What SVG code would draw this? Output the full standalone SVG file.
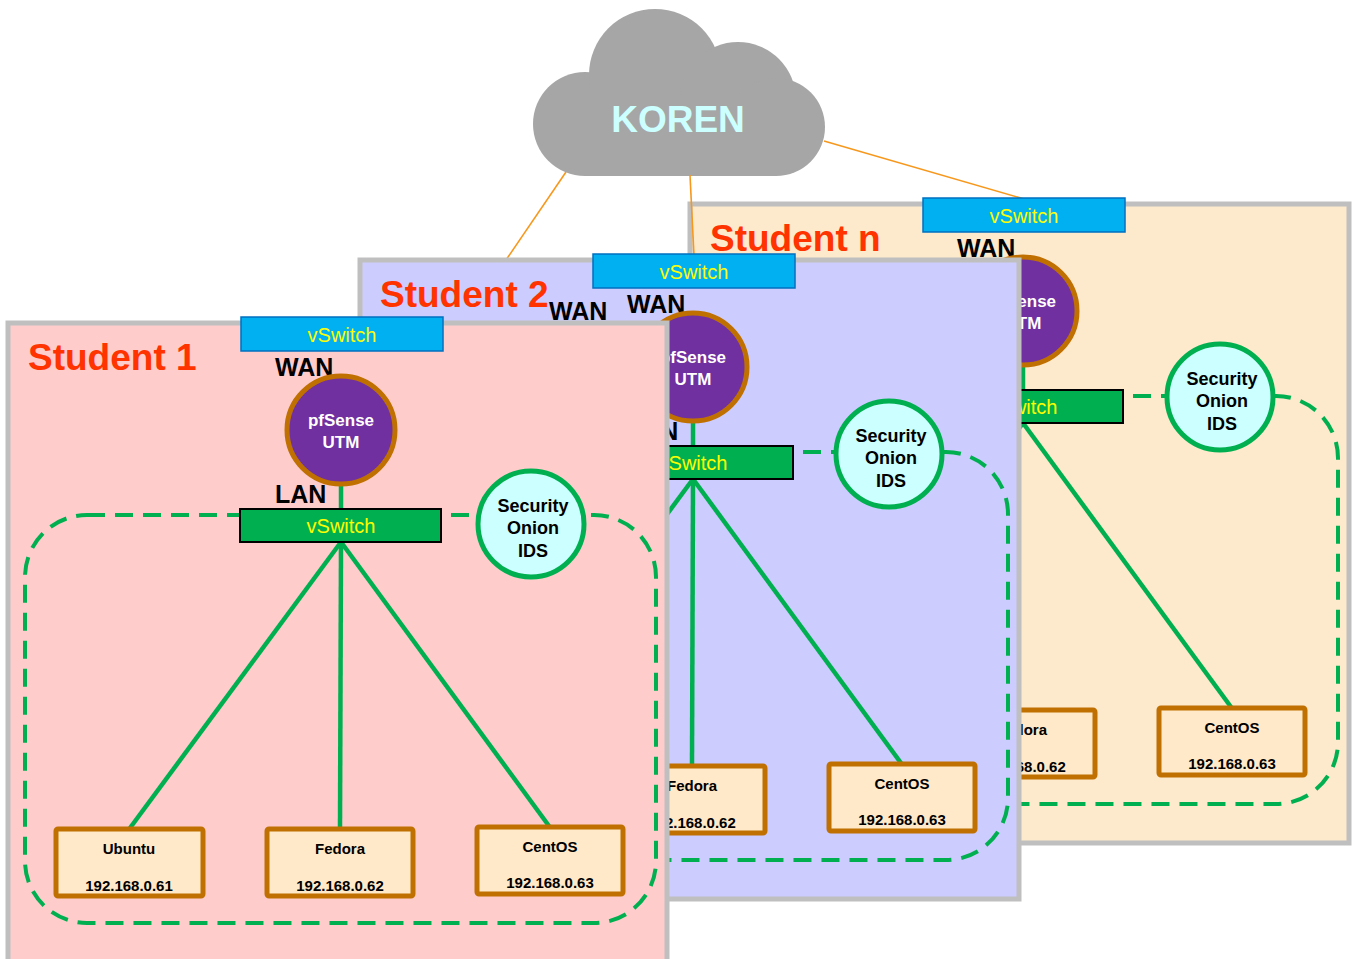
<svg xmlns="http://www.w3.org/2000/svg" width="1354" height="959" viewBox="0 0 1354 959">
<style>
.panel{stroke:#BFBFBF;stroke-width:5}
.lan{fill:none;stroke:#00B050;stroke-width:4;stroke-dasharray:18 10}
.link{stroke:#00B050;stroke-width:4.5;fill:none}
.up{stroke:#F7981D;stroke-width:1.6;fill:none}
.wsw{fill:#00B0F0;stroke:#0070C0;stroke-width:1.5}
.lsw{fill:#00B050;stroke:#000;stroke-width:2}
.swt{font-family:"Liberation Sans",Arial,sans-serif;font-size:20px;fill:#FFFF00;text-anchor:middle}
.fw{fill:#7030A0;stroke:#C07000;stroke-width:5}
.fwt{font-family:"Liberation Sans",Arial,sans-serif;font-weight:bold;font-size:17px;fill:#FFFFFF;text-anchor:middle}
.ids{fill:#CCFFFF;stroke:#00B050;stroke-width:5}
.idst{font-family:"Liberation Sans",Arial,sans-serif;font-weight:bold;font-size:18px;fill:#000;text-anchor:middle}
.vm{fill:#FFE9C9;stroke:#C07000;stroke-width:5}
.vmt{font-family:"Liberation Sans",Arial,sans-serif;font-weight:bold;font-size:15px;fill:#000;text-anchor:middle}
.port{font-family:"Liberation Sans",Arial,sans-serif;font-weight:bold;font-size:25px;fill:#000}
.title{font-family:"Liberation Sans",Arial,sans-serif;font-weight:bold;font-size:37px;fill:#FF3300}
.cloud{fill:#A6A6A6}
</style>

<g id="uplinks-back">
  <line class="up" x1="566" y1="172" x2="506" y2="260"/>
  <line class="up" x1="824" y1="141" x2="1024" y2="199"/>
</g>

<g id="koren">
  <g class="cloud">
    <circle cx="585" cy="124" r="52"/>
    <circle cx="655" cy="75" r="66"/>
    <circle cx="738" cy="100" r="58"/>
    <circle cx="776" cy="127" r="49"/>
    <rect x="585" y="100" width="191" height="76"/>
  </g>
  <text x="678" y="132" font-family="Liberation Sans, Arial, sans-serif" font-weight="bold" font-size="37" fill="#CCFFFF" text-anchor="middle">KOREN</text>
</g>

<!-- Student n -->
<g id="student-n" transform="translate(682,-119)">
  <rect id="sn-panel" class="panel" x="8" y="323" width="659" height="639" fill="#FDE9CC"/>
  <g id="sn-connectors">
    <rect class="lan" x="25" y="515" width="631" height="408" rx="62"/>
    <line class="link" x1="341" y1="485" x2="341" y2="510"/>
    <line class="link" x1="341" y1="542" x2="130" y2="828"/>
    <line class="link" x1="330" y1="542" x2="330" y2="828"/>
    <line class="link" x1="341" y1="542" x2="549" y2="826"/>
  </g>
  <text class="title" x="28" y="370">Student n</text>
  <g id="sn-wan-switch"><rect class="wsw" x="241" y="317" width="202" height="34"/><text class="swt" x="342" y="342">vSwitch</text></g>
  <text class="port" x="275" y="376">WAN</text>
  <g id="sn-pfsense"><circle class="fw" cx="341" cy="430" r="54"/><text class="fwt" x="341" y="426">pfSense</text><text class="fwt" x="341" y="448">UTM</text></g>
  <text class="port" x="275" y="503">LAN</text>
  <g id="sn-lan-switch"><rect class="lsw" x="240" y="509" width="201" height="33"/><text class="swt" x="341" y="533">vSwitch</text></g>
  <g id="sn-ids"><circle class="ids" cx="538" cy="516" r="53"/><text class="idst" x="540" y="504">Security</text><text class="idst" x="540" y="526">Onion</text><text class="idst" x="540" y="549">IDS</text></g>
  <g id="sn-ubuntu"><rect class="vm" x="56" y="829" width="147" height="67" rx="2"/><text class="vmt" x="129" y="854">Ubuntu</text><text class="vmt" x="129" y="891">192.168.0.61</text></g>
  <g id="sn-fedora"><rect class="vm" x="267" y="829" width="146" height="67" rx="2"/><text class="vmt" x="340" y="854">Fedora</text><text class="vmt" x="340" y="891">192.168.0.62</text></g>
  <g id="sn-centos"><rect class="vm" x="477" y="827" width="146" height="67" rx="2"/><text class="vmt" x="550" y="852">CentOS</text><text class="vmt" x="550" y="888">192.168.0.63</text></g>
</g>

<g id="uplinks-front">
  <line class="up" x1="690" y1="175" x2="694" y2="256"/>
</g>

<!-- Student 2 -->
<g id="student-2" transform="translate(352,-63)">
  <rect id="s2-panel" class="panel" x="8" y="323" width="659" height="639" fill="#CCCCFF"/>
  <g id="s2-connectors">
    <rect class="lan" x="25" y="515" width="631" height="408" rx="62"/>
    <line class="link" x1="341" y1="485" x2="341" y2="510"/>
    <line class="link" x1="341" y1="542" x2="130" y2="828"/>
    <line class="link" x1="341" y1="542" x2="340" y2="828"/>
    <line class="link" x1="341" y1="542" x2="549" y2="826"/>
  </g>
  <text class="title" x="28" y="370">Student 2</text>
  <text class="port" x="197" y="383">WAN</text>
  <g id="s2-wan-switch"><rect class="wsw" x="241" y="317" width="202" height="34"/><text class="swt" x="342" y="342">vSwitch</text></g>
  <text class="port" x="275" y="376">WAN</text>
  <g id="s2-pfsense"><circle class="fw" cx="341" cy="430" r="54"/><text class="fwt" x="341" y="426">pfSense</text><text class="fwt" x="341" y="448">UTM</text></g>
  <text class="port" x="275" y="503">LAN</text>
  <g id="s2-lan-switch"><rect class="lsw" x="240" y="509" width="201" height="33"/><text class="swt" x="341" y="533">vSwitch</text></g>
  <g id="s2-ids"><circle class="ids" cx="537" cy="517" r="53"/><text class="idst" x="539" y="505">Security</text><text class="idst" x="539" y="527">Onion</text><text class="idst" x="539" y="550">IDS</text></g>
  <g id="s2-ubuntu"><rect class="vm" x="56" y="829" width="147" height="67" rx="2"/><text class="vmt" x="129" y="854">Ubuntu</text><text class="vmt" x="129" y="891">192.168.0.61</text></g>
  <g id="s2-fedora"><rect class="vm" x="267" y="829" width="146" height="67" rx="2"/><text class="vmt" x="340" y="854">Fedora</text><text class="vmt" x="340" y="891">192.168.0.62</text></g>
  <g id="s2-centos"><rect class="vm" x="477" y="827" width="146" height="67" rx="2"/><text class="vmt" x="550" y="852">CentOS</text><text class="vmt" x="550" y="888">192.168.0.63</text></g>
</g>

<!-- Student 1 -->
<g id="student-1">
  <rect id="s1-panel" class="panel" x="8" y="323" width="659" height="639" fill="#FFCCCC"/>
  <g id="s1-connectors">
    <rect class="lan" x="25" y="515" width="631" height="408" rx="62"/>
    <line class="link" x1="341" y1="485" x2="341" y2="510"/>
    <line class="link" x1="341" y1="542" x2="130" y2="828"/>
    <line class="link" x1="341" y1="542" x2="340" y2="828"/>
    <line class="link" x1="341" y1="542" x2="549" y2="826"/>
  </g>
  <text class="title" x="28" y="370">Student 1</text>
  <g id="s1-wan-switch"><rect class="wsw" x="241" y="317" width="202" height="34"/><text class="swt" x="342" y="342">vSwitch</text></g>
  <text class="port" x="275" y="376">WAN</text>
  <g id="s1-pfsense"><circle class="fw" cx="341" cy="430" r="54"/><text class="fwt" x="341" y="426">pfSense</text><text class="fwt" x="341" y="448">UTM</text></g>
  <text class="port" x="275" y="503">LAN</text>
  <g id="s1-lan-switch"><rect class="lsw" x="240" y="509" width="201" height="33"/><text class="swt" x="341" y="533">vSwitch</text></g>
  <g id="s1-ids"><circle class="ids" cx="531" cy="524" r="53"/><text class="idst" x="533" y="512">Security</text><text class="idst" x="533" y="534">Onion</text><text class="idst" x="533" y="557">IDS</text></g>
  <g id="s1-ubuntu"><rect class="vm" x="56" y="829" width="147" height="67" rx="2"/><text class="vmt" x="129" y="854">Ubuntu</text><text class="vmt" x="129" y="891">192.168.0.61</text></g>
  <g id="s1-fedora"><rect class="vm" x="267" y="829" width="146" height="67" rx="2"/><text class="vmt" x="340" y="854">Fedora</text><text class="vmt" x="340" y="891">192.168.0.62</text></g>
  <g id="s1-centos"><rect class="vm" x="477" y="827" width="146" height="67" rx="2"/><text class="vmt" x="550" y="852">CentOS</text><text class="vmt" x="550" y="888">192.168.0.63</text></g>
</g>
</svg>
